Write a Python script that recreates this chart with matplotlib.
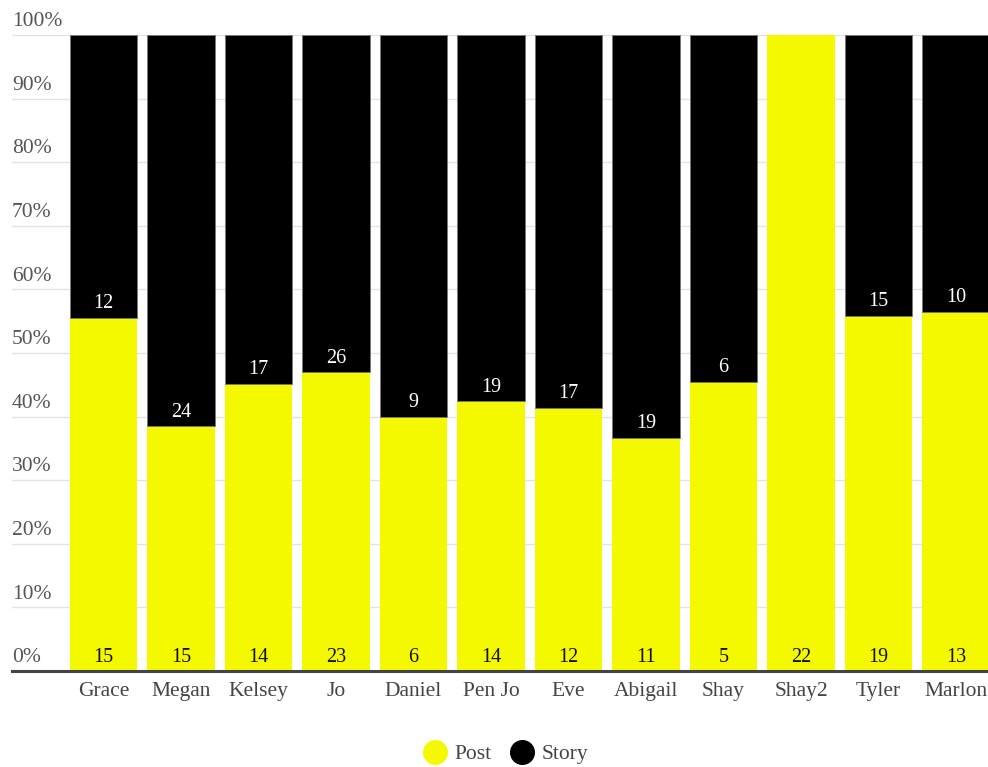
import matplotlib
matplotlib.use("Agg")
import matplotlib.pyplot as plt
from matplotlib.lines import Line2D
import numpy as np

names = ["Grace", "Megan", "Kelsey", "Jo", "Daniel", "Pen Jo", "Eve",
         "Abigail", "Shay", "Shay2", "Tyler", "Marlon"]
post = [15, 15, 14, 23, 6, 14, 12, 11, 5, 22, 19, 13]
story = [12, 24, 17, 26, 9, 19, 17, 19, 6, 0, 15, 10]
yticks = [0, 10, 20, 30, 40, 50, 60, 70, 80, 90, 100]

YELLOW = "#f5f900"
BLACK = "#000000"

plt.rcParams['font.family'] = ['Liberation Serif', 'DejaVu Serif']

W, H = 988, 767
fig = plt.figure(figsize=(W / 100, H / 100), dpi=100)
top_px, bot_px = 35, 671
left_px = 12
ax = fig.add_axes([left_px / W, 1 - bot_px / H, 1 - left_px / W, (bot_px - top_px) / H])

post_a = np.array(post, float)
story_a = np.array(story, float)
tot = post_a + story_a
ppct = post_a / tot * 100
spct = story_a / tot * 100
x = np.arange(len(names))
bw = 0.865

ax.bar(x, ppct, width=bw, color=YELLOW, edgecolor=YELLOW, linewidth=0, zorder=2)
edge_cols = ["#777777" if s > 0 else "none" for s in story]
ax.bar(x, spct, bottom=ppct, width=bw, color=BLACK, edgecolor=edge_cols, linewidth=0.6, zorder=2)

px_per_pct = (bot_px - top_px) / 100.0
off = 14 / px_per_pct
for i in range(len(names)):
    ax.text(x[i], off, str(post[i]), ha="center", va="center", fontsize=14.5, color="#111111", zorder=3)
    if story[i] > 0:
        ax.text(x[i], ppct[i] + off, str(story[i]), ha="center", va="center",
                fontsize=14.5, color="white", zorder=3)

x_left = (left_px - 103.5) / 77.5
x_right = (W - 103.5) / 77.5
ax.set_xlim(x_left, x_right)
ax.set_ylim(0, 100)

for v in yticks:
    if v > 0:
        ax.axhline(v, color="#e3e3e3", linewidth=1, zorder=1)
    ax.text(x_left, v + 0.6, f"{v}%", ha="left", va="bottom", fontsize=15.5, color="#555555", zorder=3)

ax.axhline(0, color="#444444", linewidth=2.2, zorder=4, clip_on=False)

for s in ax.spines.values():
    s.set_visible(False)
ax.set_yticks([])
ax.set_xticks(x)
ax.set_xticklabels(names, fontsize=15.5, color="#444444")
ax.tick_params(axis="x", length=0, pad=8)

handles = [Line2D([0], [0], marker="o", color="w", markerfacecolor=YELLOW, markeredgecolor=YELLOW, markersize=17, label="Post"),
           Line2D([0], [0], marker="o", color="w", markerfacecolor=BLACK, markeredgecolor=BLACK, markersize=17, label="Story")]
fig.legend(handles=handles, loc="center", bbox_to_anchor=(505 / W, 1 - 754 / H), ncol=2, frameon=False,
           fontsize=15.5, handletextpad=0.3, columnspacing=0.8, labelcolor="#444444", handlelength=1.2)

fig.savefig("out.png", dpi=100)
